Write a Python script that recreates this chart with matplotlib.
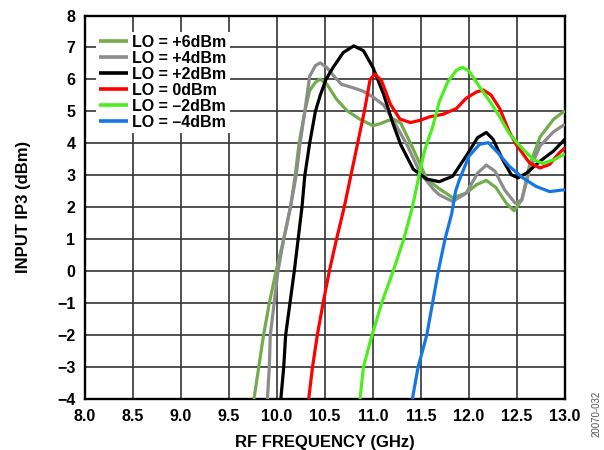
import matplotlib

matplotlib.use("Agg")

import matplotlib.pyplot as plt


# LO = +6dBm
freq_p6 = [9.76, 9.81, 9.86, 9.92, 9.99, 10.07, 10.14, 10.19, 10.23, 10.29, 10.34, 10.40, 10.45,
           10.52, 10.62, 10.73, 10.86, 11.00, 11.08, 11.16, 11.22, 11.29, 11.42, 11.56, 11.69,
           11.83, 11.97, 12.08, 12.18, 12.28, 12.39, 12.47, 12.55, 12.63, 12.74, 12.88, 12.98, 13.00]
ip3_p6 = [-4, -3, -2, -1, 0, 1, 2, 3, 4, 5, 5.65, 5.91, 6.01,
          5.85, 5.38, 5.02, 4.76, 4.55, 4.62, 4.72, 4.75, 4.63, 3.81, 2.88, 2.58,
          2.30, 2.44, 2.71, 2.84, 2.62, 2.12, 1.89, 2.23, 3.30, 4.20, 4.75, 4.98, 5.00]

# LO = +4dBm
freq_p4 = [9.90, 9.92, 9.93, 9.97, 10.01, 10.07, 10.14, 10.20, 10.24, 10.29, 10.34, 10.40, 10.45,
           10.52, 10.59, 10.67, 10.80, 10.90, 11.00, 11.11, 11.21, 11.36, 11.49, 11.63, 11.69,
           11.83, 11.97, 12.09, 12.18, 12.27, 12.37, 12.48, 12.55, 12.63, 12.74, 12.88, 13.00]
ip3_p4 = [-4, -3, -2, -1, 0, 1, 2, 3, 4, 5, 6.10, 6.43, 6.52,
          6.37, 6.11, 5.85, 5.73, 5.63, 5.45, 5.20, 4.72, 3.92, 3.08, 2.56, 2.39,
          2.18, 2.44, 3.07, 3.32, 3.13, 2.55, 2.13, 2.23, 3.15, 3.92, 4.36, 4.60]

# LO = +2dBm
freq_p2 = [10.04, 10.07, 10.09, 10.135, 10.18, 10.22, 10.26, 10.29, 10.34, 10.40, 10.45, 10.51,
           10.59, 10.69, 10.80, 10.90, 11.00, 11.11, 11.21, 11.29, 11.42, 11.56, 11.69, 11.83,
           11.97, 12.09, 12.18, 12.25, 12.35, 12.44, 12.51, 12.60, 12.74, 12.88, 13.00]
ip3_p2 = [-4, -3, -2, -1, 0, 1, 2, 3, 4, 5, 5.50, 6.00,
          6.40, 6.84, 7.05, 6.90, 6.37, 5.54, 4.60, 3.95, 3.19, 2.88, 2.80, 2.97,
          3.60, 4.18, 4.34, 4.13, 3.49, 3.02, 2.92, 3.07, 3.44, 3.76, 4.13]

# LO = 0dBm
freq_0 = [10.33, 10.37, 10.42, 10.48, 10.545, 10.62, 10.70, 10.77, 10.84, 10.91, 10.97, 11.02,
          11.09, 11.18, 11.28, 11.39, 11.49, 11.59, 11.73, 11.87, 11.97, 12.08, 12.15, 12.23,
          12.32, 12.42, 12.49, 12.63, 12.74, 12.84, 12.94, 13.00]
ip3_0 = [-4, -3, -2, -1, 0, 1, 2, 3, 4, 5, 6.00, 6.17,
         5.95, 5.23, 4.76, 4.65, 4.72, 4.83, 4.91, 5.09, 5.41, 5.61, 5.67, 5.51,
         5.09, 4.36, 3.97, 3.39, 3.23, 3.34, 3.70, 3.86]

# LO = -2dBm
freq_m2 = [10.865, 10.90, 10.99, 11.09, 11.21, 11.32, 11.41, 11.48, 11.54, 11.62, 11.69, 11.78,
           11.87, 11.93, 12.00, 12.11, 12.22, 12.32, 12.42, 12.53, 12.67, 12.77, 12.89, 13.00]
ip3_m2 = [-4, -3, -2, -1, 0, 1, 2, 3, 3.8, 4.5, 5.30, 5.93,
          6.29, 6.38, 6.26, 5.77, 5.30, 4.83, 4.30, 3.92, 3.49, 3.37, 3.49, 3.68]

# LO = -4dBm
freq_m4 = [11.41, 11.47, 11.56, 11.62, 11.68, 11.75, 11.82, 11.86, 11.90, 12.00, 12.11, 12.20,
           12.30, 12.42, 12.56, 12.70, 12.84, 13.00]
ip3_m4 = [-4, -3, -2, -1, 0, 1, 1.8, 2.5, 2.86, 3.60, 3.97, 4.02,
          3.71, 3.28, 2.92, 2.65, 2.49, 2.55]

series = [
    ("LO = +6dBm", freq_p6, ip3_p6, "#72AC4D"),
    ("LO = +4dBm", freq_p4, ip3_p4, "#8C8C8C"),
    ("LO = +2dBm", freq_p2, ip3_p2, "#000000"),
    ("LO = 0dBm", freq_0, ip3_0, "#FF0000"),
    ("LO = \u20132dBm", freq_m2, ip3_m2, "#4CEE1E"),
    ("LO = \u20134dBm", freq_m4, ip3_m4, "#1577E6"),
]

x_ticks = [8.0, 8.5, 9.0, 9.5, 10.0, 10.5, 11.0, 11.5, 12.0, 12.5, 13.0]
y_ticks = list(range(-4, 9))

plt.rcParams["font.family"] = ["Liberation Sans", "DejaVu Sans"]
plt.rcParams["font.weight"] = "bold"

fig = plt.figure(figsize=(6.04, 4.5), dpi=100)
ax = fig.add_axes([85 / 604, 1 - 399 / 450, 480 / 604, 383.5 / 450])

for label, f, v, color in series:
    ax.plot(f, v, color=color, linewidth=2.3, label=label,
            solid_joinstyle="round", solid_capstyle="butt", zorder=3)

ax.set_xlim(8.0, 13.0)
ax.set_ylim(-4, 8)
ax.set_xticks(x_ticks)
ax.set_xticklabels(["%.1f" % t for t in x_ticks])
ax.set_yticks(y_ticks)
ax.tick_params(length=0, labelsize=11.5, pad=7)
ax.grid(True, color="#333333", linewidth=1.2)
ax.set_axisbelow(True)
for spine in ax.spines.values():
    spine.set_linewidth(1.7)
    spine.set_color("black")

ax.set_xlabel("RF FREQUENCY (GHz)", fontsize=12, fontweight="bold", labelpad=8)
ax.set_ylabel("INPUT IP3 (dBm)", fontsize=12, fontweight="bold", labelpad=19)

leg = ax.legend(loc="upper left", bbox_to_anchor=(0.022, 0.958), fontsize=11.5,
                frameon=True, fancybox=False, framealpha=1, edgecolor="none",
                facecolor="white", handlelength=1.8, handletextpad=0.3,
                labelspacing=0.06, borderpad=0.2, borderaxespad=0)
for line in leg.get_lines():
    line.set_linewidth(2.6)

fig.text(0.988, 0.08, "20070-032", rotation=90, fontsize=7, color="#555555",
         fontweight="normal", ha="center", va="center")

fig.savefig("out.png", dpi=100)
